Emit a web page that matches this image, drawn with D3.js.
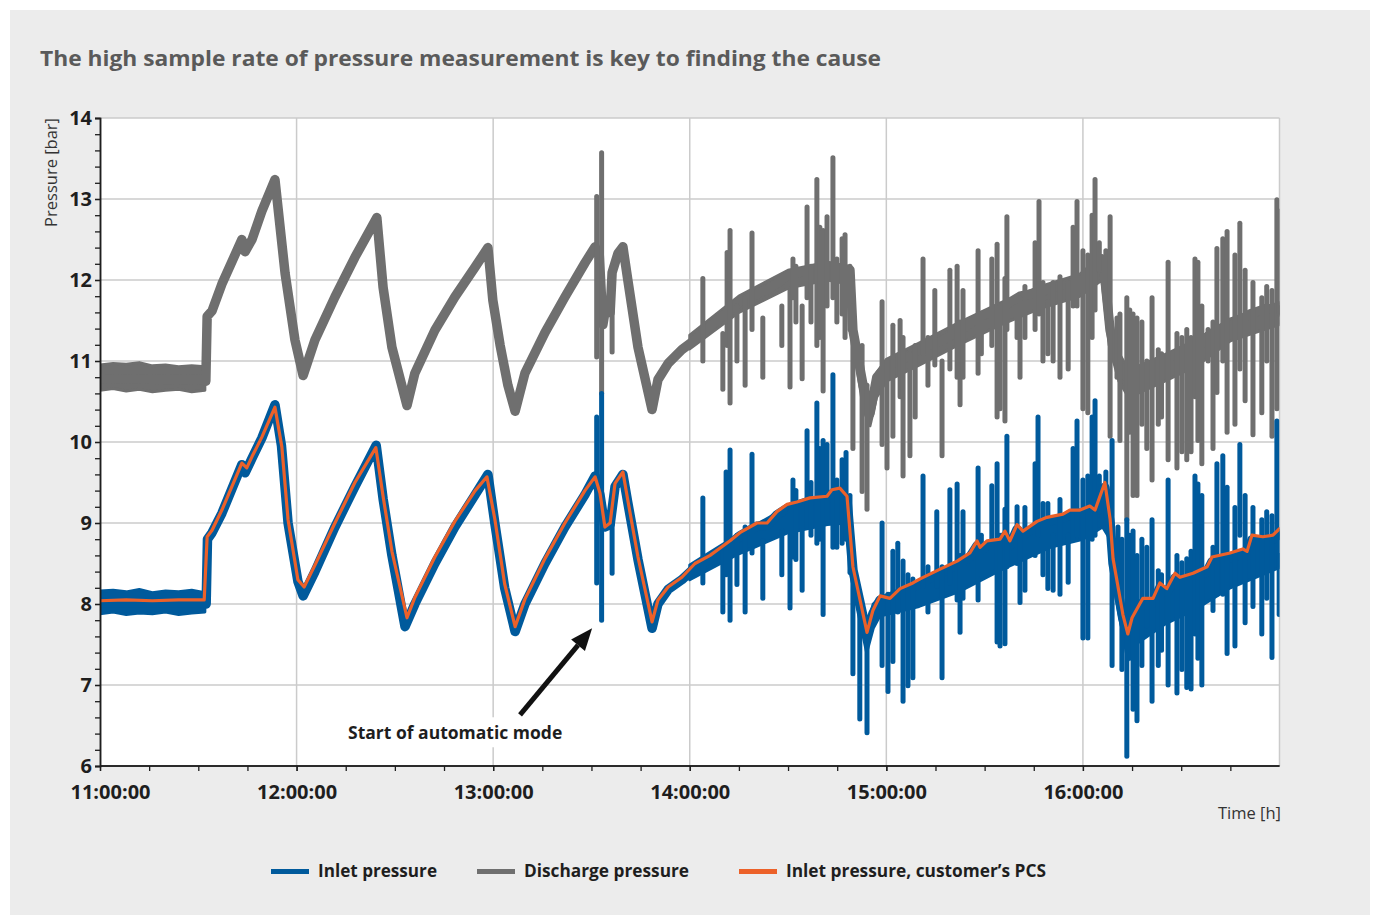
<!DOCTYPE html>
<html><head><meta charset="utf-8">
<script src="https://cdn.jsdelivr.net/npm/d3@7"></script>
<style>
html,body{margin:0;padding:0;background:#fff;}
svg{display:block;font-family:"Open Sans","Noto Sans",sans-serif;}
</style></head><body>
<svg id="chart" width="1376" height="916"></svg>
<script>
// ---------------- DATA (time in minutes after 11:00:00, pressure in bar) ----------------
const title = "The high sample rate of pressure measurement is key to finding the cause";
const yTickValues = [6,7,8,9,10,11,12,13,14];
const xTickMinutes = [0,60,120,180,240,300];
const xTickLabels = ["11:00:00","12:00:00","13:00:00","14:00:00","15:00:00","16:00:00"];
const seriesNames = ["Inlet pressure","Discharge pressure","Inlet pressure, customer\u2019s PCS"];

// Discharge pressure (grey): noisy band before start-up [t, low, high]
const dischargeNoise = [[0,10.64,10.95],[4,10.66,10.97],[8,10.63,10.96],[12,10.65,10.98],[16,10.62,10.94],[20,10.64,10.95],[24,10.65,10.93],[28,10.62,10.94],[32,10.64,10.93]];
// Discharge pressure: dense noise core in automatic mode [t, low, high]
const dischargeCore = [[180,11.15,11.32],[195,11.6,11.8],[210,11.9,12.12],[222,12.0,12.22],[228.5,11.95,12.17],[230,11.2,11.5],[233,10.4,10.8],[235,10.2,10.45],[237,10.55,10.85],[240,10.75,11.02],[250,10.95,11.22],[262,11.2,11.47],[275,11.45,11.72],[287,11.65,11.92],[299,11.8,12.07],[305.8,12.0,12.3],[308,11.2,11.6],[311,10.75,11.1],[314,10.55,10.88],[325,10.75,11.08],[335,10.95,11.27],[345,11.25,11.52],[360,11.45,11.72]];
// Discharge pressure main trace [t, value]
const dischargeTrace = [[0,10.78],[32,10.77],[32.3,10.75],[32.7,11.55],[34.2,11.62],[37.2,11.95],[43.3,12.5],[44.3,12.35],[46.4,12.5],[49.4,12.85],[53.4,13.24],[56.5,12.08],[59.5,11.26],[62.0,10.82],[65.6,11.26],[71.7,11.79],[77.8,12.28],[84.5,12.77],[86.4,11.91],[89.1,11.17],[93.7,10.45],[96.1,10.85],[102.2,11.38],[108.3,11.79],[114.5,12.16],[118.4,12.40],[119.9,11.75],[122.1,11.2],[124.5,10.7],[126.7,10.38],[129.7,10.85],[135.8,11.35],[141.9,11.79],[148.0,12.21],[151.1,12.41],[152.4,12.3],[153.5,11.45],[154.1,11.6],[155.7,11.6],[156.3,12.09],[158.1,12.33],[159.6,12.41],[161.1,12.0],[164.2,11.17],[168.5,10.4],[170.3,10.77],[173.4,10.97],[177.6,11.14],[181.6,11.26],[186.2,11.43],[195.3,11.73],[204.5,11.9],[210.6,12.07],[216.7,12.12],[222.8,12.17],[228.9,12.12],[229.8,11.38],[232.9,10.7],[235.0,10.35],[237.1,10.8],[240.2,10.95],[244.2,11.0],[250.3,11.15],[256.4,11.24],[262.5,11.38],[268.6,11.55],[274.7,11.65],[280.8,11.8],[286.9,11.85],[293.0,11.93],[299.1,11.98],[303.1,12.12],[305.8,12.26],[306.7,12.02],[308.3,11.38],[310.4,11.0],[313.4,10.8],[317.4,10.9],[323.5,11.0],[329.6,11.1],[335.7,11.19],[338.8,11.33],[344.9,11.43],[351.0,11.58],[356.1,11.65],[360,11.63]];
// Discharge pressure short spikes [t, low, high]
const dischargeSpikes = [[151.6,11.05,13.03],[153.1,10.6,13.57],[156.3,11.11,12.16],
[184.0,11.0,12.02],[190.1,10.65,11.34],[191.4,11.19,12.34],[192.3,10.48,12.61],[194.4,11.0,11.68],[196.9,10.7,11.78],[199.0,11.39,12.58],[202.3,10.8,11.53],[208.1,11.19,11.68],[210.6,10.68,11.87],[211.5,11.78,12.26],[212.4,11.48,12.17],[214.3,10.78,11.68],[215.8,11.78,12.9],[217.0,11.48,12.17],[218.8,11.19,13.24],[219.7,11.29,12.65],[220.7,10.63,12.61],[221.9,11.68,12.78],[223.7,11.78,13.51],[224.9,11.48,12.26],[226.5,11.58,12.51],[227.4,11.29,12.56],[228.9,11.39,12.17],[229.8,9.92,11.68],[232.6,9.39,11.19],[234.1,9.17,10.7],
[238.7,9.97,11.73],[240.2,9.68,11.0],[242.0,10.07,11.44],[244.2,10.56,11.5],[245.1,9.58,11.29],[247.2,9.83,11.09],[248.8,10.31,11.19],[251.2,11.09,12.26],[252.7,10.7,11.29],[254.8,10.95,11.87],[257.0,9.83,11.0],[259.4,10.9,12.12],[261.6,10.8,12.17],[262.5,10.46,11.48],[263.4,10.8,11.87],[268.0,10.85,12.36],[269.0,11.09,11.58],[272.2,11.19,12.26],[273.8,10.31,12.44],[274.7,10.41,11.68],[276.2,10.26,12.02],[276.8,11.39,12.78],[279.9,11.29,11.68],[280.8,10.8,11.78],[282.3,11.29,11.92],[285.4,11.39,12.46],[286.6,11.58,12.97],[287.8,11.0,11.97],[289.3,11.09,11.73],[290.9,11.0,11.97],[293.0,10.8,12.04],[295.5,10.9,11.97],[297.0,11.68,12.65],[298.2,11.68,12.97],[300.0,10.41,12.36],[301.5,10.36,12.31],[302.8,11.29,12.8],[303.7,11.63,13.24],[305.0,12.12,12.46],[307.0,11.87,12.36],[308.3,10.07,12.78],[310.4,10.8,11.53],[311.3,10.02,11.58],[313.4,9.04,11.78],[314.3,10.12,11.63],[315.3,9.34,11.58],[316.5,9.34,11.53],[318.0,10.22,11.48],[319.5,9.92,11.0],[321.1,9.53,11.78],[323.0,10.22,11.14],[324.0,10.31,11.09],[326.0,9.78,12.22],[328.7,9.68,11.34],[330.2,9.88,11.29],[331.7,9.78,11.39],[333.0,9.88,11.29],[334.2,10.56,12.26],[335.1,10.02,12.22],[336.3,9.73,11.68],[338.2,11.0,11.39],[339.7,9.92,11.48],[340.9,10.61,12.39],[342.7,11.0,12.51],[344.0,10.12,12.6],[346.4,10.22,12.31],[347.9,10.9,12.7],[349.5,10.51,12.12],[351.9,10.09,11.97],[354.6,10.36,11.78],[356.1,11.0,11.92],[357.7,10.07,11.87],[359.2,10.41,12.99],[359.9,11.58,12.85]];

// Inlet pressure (blue)
const inletNoise = [[0,7.88,8.16],[4,7.9,8.17],[8,7.87,8.15],[12,7.89,8.18],[16,7.88,8.14],[20,7.9,8.16],[24,7.87,8.15],[28,7.89,8.17],[32,7.9,8.14]];
const inletCore = [[180,8.3,8.48],[195,8.62,8.86],[210,8.88,9.2],[222,8.98,9.3],[228,9.0,9.33],[229.8,8.2,8.5],[234,7.4,7.7],[236,7.7,8.0],[238,7.85,8.08],[250,7.97,8.28],[262,8.15,8.5],[275,8.42,8.78],[290,8.7,9.05],[300,8.8,9.15],[306,8.95,9.4],[308.3,8.8,9.05],[310,8.1,8.5],[313.7,7.3,7.62],[316,7.5,7.82],[325,7.75,8.18],[335,7.95,8.35],[345,8.2,8.6],[360,8.45,8.88]];
const inletTrace = [[0,8.02],[32,8.02],[32.4,8.0],[32.8,8.8],[34.2,8.88],[37.2,9.12],[43.3,9.72],[44.3,9.62],[46.4,9.8],[49.4,10.05],[53.4,10.46],[55.4,9.95],[57.4,9.0],[60.4,8.28],[62.0,8.1],[65.6,8.4],[71.7,8.95],[77.8,9.45],[84.3,9.96],[86.4,9.3],[89.1,8.6],[93.1,7.72],[96.1,8.0],[102.2,8.5],[108.3,8.95],[114.5,9.35],[118.4,9.6],[120.5,9.0],[123.5,8.2],[126.7,7.66],[129.7,8.0],[135.8,8.5],[141.9,8.95],[148.0,9.35],[151.1,9.58],[152.6,9.35],[154.1,8.95],[155.7,8.98],[157.2,9.45],[159.6,9.6],[161.1,9.25],[164.2,8.55],[168.5,7.7],[170.3,8.0],[173.4,8.18],[177.6,8.3],[181.6,8.45],[186.2,8.56],[192.3,8.74],[195.3,8.84],[200.5,8.96],[203.6,8.97],[206.6,9.1],[209.7,9.18],[212.7,9.22],[216.7,9.27],[221.9,9.29],[223.4,9.36],[225.8,9.38],[228.0,9.28],[229.8,8.42],[234.1,7.62],[235.9,7.88],[238.1,8.05],[241.1,8.02],[244.2,8.14],[248.1,8.2],[250.3,8.26],[256.4,8.38],[261.6,8.48],[265.5,8.58],[267.7,8.72],[268.6,8.65],[270.7,8.72],[274.7,8.75],[276.2,8.84],[277.7,8.72],[279.9,8.92],[281.7,8.85],[286.0,8.96],[289.0,9.02],[293.9,9.06],[296.0,9.1],[299.1,9.12],[302.1,9.16],[303.7,9.1],[306.7,9.44],[308.3,9.0],[309.2,8.5],[312.2,7.82],[313.7,7.58],[315.0,7.78],[318.3,8.02],[321.4,8.02],[323.5,8.2],[325.6,8.14],[328.1,8.32],[329.6,8.28],[333.6,8.32],[337.9,8.4],[339.4,8.52],[344.9,8.57],[348.8,8.62],[350.1,8.6],[351.6,8.79],[354.9,8.77],[358.0,8.8],[360,8.87]];
const inletSpikes = [[151.6,8.26,10.31],[153.1,7.8,10.6],[156.3,8.38,8.99],
[184.0,8.26,9.31],[190.1,7.9,8.63],[191.1,8.36,9.63],[192.3,7.8,9.9],[194.4,8.24,8.85],[196.9,7.9,8.95],[199.0,8.63,9.85],[202.3,8.07,8.78],[208.1,8.36,8.9],[210.6,7.95,9.14],[211.5,8.58,9.53],[212.4,8.55,9.4],[214.3,8.17,9.24],[215.8,8.95,10.14],[217.0,8.85,9.5],[218.8,8.75,10.48],[219.7,8.8,9.92],[220.7,7.87,10.02],[221.9,9.04,9.97],[223.7,8.7,10.83],[224.9,8.7,9.53],[226.5,8.75,9.78],[227.7,8.8,9.87],[228.9,8.39,9.34],[229.8,7.14,8.36],[231.9,6.58,7.97],[234.1,6.41,7.83],
[238.7,7.24,9.0],[240.5,6.92,8.12],[242.0,7.29,8.65],[243.5,7.9,8.75],[245.1,6.8,8.53],[246.6,6.99,8.36],[248.1,7.09,8.31],[251.2,8.22,9.58],[252.7,7.9,8.46],[255.4,8.22,9.14],[257.0,7.09,8.46],[259.4,8.26,9.41],[261.6,8.05,9.48],[262.5,7.65,8.6],[263.4,8.07,9.14],[268.0,8.05,9.68],[269.0,8.35,8.85],[272.2,8.44,9.46],[273.8,7.53,9.73],[274.7,7.48,8.85],[276.2,7.51,9.17],[276.8,8.46,10.07],[279.9,8.5,9.2],[280.8,8.02,8.85],[282.3,8.17,9.19],[285.4,8.6,9.73],[286.3,8.85,10.31],[287.8,8.36,9.24],[289.3,8.19,9.24],[290.9,8.17,8.85],[293.0,8.12,9.29],[295.5,8.27,8.85],[297.0,8.8,9.92],[298.2,8.85,10.26],[300.0,7.58,9.53],[301.5,7.58,9.58],[302.8,8.8,10.31],[303.7,8.85,10.51],[305.0,9.14,9.58],[307.0,9.09,9.63],[308.9,7.24,10.02],[310.7,8.07,8.95],[311.9,7.19,8.8],[313.4,6.12,9.04],[314.3,7.33,8.85],[315.3,6.7,8.9],[316.5,6.56,8.6],[318.0,7.24,8.8],[319.5,7.73,8.7],[321.1,6.8,9.04],[323.0,7.24,8.41],[324.0,7.43,8.36],[326.0,7.0,9.53],[328.7,6.9,8.6],[330.2,7.19,8.51],[331.7,6.97,8.56],[333.0,6.95,8.65],[334.2,7.63,9.58],[335.1,7.33,9.48],[336.3,7.0,9.34],[339.7,7.92,8.7],[340.9,8.12,9.73],[342.7,8.12,9.83],[344.0,7.39,9.44],[346.4,7.48,9.19],[347.9,8.85,9.97],[349.5,7.77,9.34],[351.9,7.97,9.19],[354.6,7.63,9.04],[356.1,8.07,9.14],[357.7,7.34,9.09],[359.2,8.85,10.26],[359.9,7.87,8.6]];

// Inlet pressure from customer's PCS (orange)
const pcsTrace = [[0,8.04],[8,8.05],[16,8.04],[24,8.05],[31.8,8.05],[32.7,8.83],[34.2,8.91],[37.2,9.16],[43.3,9.74],[44.8,9.68],[46.4,9.82],[49.4,10.06],[53.4,10.43],[55.5,9.94],[57.4,9.04],[60.4,8.30],[62.3,8.21],[65.6,8.48],[71.7,9.0],[77.8,9.5],[84.2,9.93],[86.4,9.33],[89.1,8.65],[93.7,7.83],[96.1,8.08],[102.2,8.58],[108.3,9.02],[114.5,9.4],[118.1,9.57],[120.5,9.05],[123.5,8.25],[126.7,7.72],[129.7,8.06],[135.8,8.56],[141.9,9.0],[148.0,9.4],[151.1,9.57],[152.6,9.37],[154.1,8.95],[155.7,9.0],[157.2,9.49],[159.6,9.63],[161.1,9.28],[164.2,8.58],[168.5,7.78],[170.3,8.05],[173.4,8.21],[177.6,8.33],[181.6,8.5],[186.2,8.60],[192.3,8.78],[195.3,8.88],[200.5,9.0],[203.6,9.0],[206.6,9.14],[209.7,9.23],[212.7,9.26],[216.7,9.31],[221.9,9.33],[223.4,9.41],[225.8,9.43],[228.0,9.33],[229.8,8.46],[234.1,7.65],[235.9,7.92],[238.1,8.1],[241.1,8.07],[244.2,8.19],[248.1,8.26],[250.3,8.31],[256.4,8.43],[261.6,8.53],[265.5,8.63],[267.7,8.78],[268.6,8.7],[270.7,8.78],[274.7,8.8],[276.2,8.9],[277.7,8.78],[279.9,8.98],[281.7,8.9],[286.0,9.02],[289.0,9.07],[293.9,9.11],[296.0,9.16],[299.1,9.16],[302.1,9.21],[303.7,9.16],[306.7,9.5],[308.3,9.05],[309.2,8.56],[312.2,7.87],[313.7,7.63],[315.0,7.83],[318.3,8.07],[321.4,8.07],[323.5,8.26],[325.6,8.19],[328.1,8.38],[329.6,8.33],[333.6,8.38],[337.9,8.46],[339.4,8.58],[344.9,8.63],[348.8,8.68],[350.1,8.65],[351.6,8.85],[354.9,8.83],[358.0,8.85],[360,8.93]];

// annotation (minutes, bar)
const annotationText = "Start of automatic mode";
const annotationAnchor = [75.7, 6.33];
const annotationArrow = [[128.2, 6.63],[150.2, 7.70]];

// ---------------- STYLE ----------------
const C = {blue:"#005a9c", grey:"#6f6f6f", orange:"#ec6129", grid:"#cbcbcb", axis:"#1e1e1e", text:"#1e1e1e", title:"#5a5a5a", panel:"#ececec"};
const T0 = new Date(2020,0,1,11,0,0);
const toDate = m => new Date(T0.getTime() + m*60000);

const svg = d3.select("#chart");
const W = 1376, H = 916;
const plot = {left:100, right:1279.5, top:118, bottom:766};

svg.append("rect").attr("x",0).attr("y",0).attr("width",W).attr("height",H).attr("fill","#fff");
svg.append("rect").attr("x",10).attr("y",10).attr("width",1360).attr("height",905).attr("fill",C.panel);

svg.append("text").attr("x",40).attr("y",66).attr("font-size",22).attr("font-weight",700)
  .attr("fill",C.title).attr("textLength",841).attr("lengthAdjust","spacingAndGlyphs").text(title);

const x = d3.scaleTime().domain([toDate(0), toDate(360)]).range([plot.left, plot.right]);
const y = d3.scaleLinear().domain([6,14]).range([plot.bottom, plot.top]);

svg.append("rect").attr("x",plot.left).attr("y",plot.top).attr("width",plot.right-plot.left).attr("height",plot.bottom-plot.top).attr("fill","#fff");

// grid
const grid = svg.append("g");
grid.selectAll(".hg").data(yTickValues.filter(v=>v>6)).join("line")
  .attr("x1",plot.left).attr("x2",plot.right).attr("y1",d=>y(d)).attr("y2",d=>y(d))
  .attr("stroke",C.grid).attr("stroke-width",1.5);
grid.selectAll(".vg").data(xTickMinutes.filter(m=>m>0).concat([360])).join("line")
  .attr("x1",d=>x(toDate(d))).attr("x2",d=>x(toDate(d))).attr("y1",plot.top).attr("y2",plot.bottom)
  .attr("stroke",C.grid).attr("stroke-width",1.5);

svg.append("clipPath").attr("id","clip").append("rect")
  .attr("x",plot.left).attr("y",plot.top-4).attr("width",plot.right-plot.left).attr("height",plot.bottom-plot.top+4);
const g = svg.append("g").attr("clip-path","url(#clip)");

const line = d3.line().x(d=>x(toDate(d[0]))).y(d=>y(d[1]));
const band = d3.area().x(d=>x(toDate(d[0]))).y0(d=>y(d[1])).y1(d=>y(d[2]));

function drawSeries(bands, trace, spikes, color){
  bands.forEach(b=>g.append("path").datum(b).attr("d",band).attr("fill",color).attr("stroke",color).attr("stroke-width",3).attr("stroke-linejoin","round"));
  g.append("path").datum(trace).attr("d",line).attr("fill","none").attr("stroke",color)
    .attr("stroke-width",9.5).attr("stroke-linejoin","round").attr("stroke-linecap","round");
  g.append("g").selectAll("line").data(spikes).join("line")
    .attr("x1",d=>x(toDate(d[0]))).attr("x2",d=>x(toDate(d[0])))
    .attr("y1",d=>y(d[1])).attr("y2",d=>y(d[2]))
    .attr("stroke",color).attr("stroke-width",5).attr("stroke-linecap","round");
}
drawSeries([dischargeNoise, dischargeCore], dischargeTrace, dischargeSpikes, C.grey);
drawSeries([inletNoise, inletCore], inletTrace, inletSpikes, C.blue);
g.append("path").datum(pcsTrace).attr("d",line).attr("fill","none").attr("stroke",C.orange)
  .attr("stroke-width",3.2).attr("stroke-linejoin","round").attr("stroke-linecap","round");

// axes
const yMinor = d3.range(6,14.001,0.2);
const yAxisMinor = d3.axisLeft(y).tickValues(yMinor).tickSize(5).tickFormat("");
const yAxis = d3.axisLeft(y).tickValues(yTickValues).tickSize(5).tickPadding(3).tickFormat(d3.format("d"));
const gy1 = svg.append("g").attr("transform",`translate(${plot.left},0)`).call(yAxisMinor);
const gy = svg.append("g").attr("transform",`translate(${plot.left},0)`).call(yAxis);
[gy1,gy].forEach(a=>{a.select(".domain").attr("stroke",C.axis).attr("stroke-width",1.5);
  a.selectAll(".tick line").attr("stroke",C.axis).attr("stroke-width",1.3);});
gy.selectAll(".tick text").attr("font-size",20).attr("font-weight",700).attr("fill",C.text)
  .attr("font-family","'Open Sans',sans-serif");

const xMinor = d3.range(0,346,15).map(toDate);
const xAxisMinor = d3.axisBottom(x).tickValues(xMinor).tickSize(5).tickFormat("");
const xAxis = d3.axisBottom(x).tickValues(xTickMinutes.map(toDate)).tickSize(5).tickPadding(14)
  .tickFormat((d,i)=>xTickLabels[i]);
const gx1 = svg.append("g").attr("transform",`translate(0,${plot.bottom})`).call(xAxisMinor);
const gx = svg.append("g").attr("transform",`translate(0,${plot.bottom})`).call(xAxis);
[gx1,gx].forEach(a=>{a.select(".domain").attr("stroke",C.axis).attr("stroke-width",1.5).attr("d",`M${plot.left},0H${plot.right}`);
  a.selectAll(".tick line").attr("stroke",C.axis).attr("stroke-width",1.3);});
gx.selectAll(".tick text").attr("font-size",20).attr("font-weight",700).attr("fill",C.text)
  .attr("font-family","'Open Sans',sans-serif").attr("dx",(d,i)=>i===0?10:0);

// axis titles
svg.append("text").attr("transform",`translate(57,${plot.top}) rotate(-90)`).attr("text-anchor","end")
  .attr("font-size",16.5).attr("fill","#333").text("Pressure [bar]");
svg.append("text").attr("x",1281).attr("y",819).attr("text-anchor","end")
  .attr("font-size",16.5).attr("fill","#333").text("Time [h]");

// annotation
const ann = svg.append("g");
const at = ann.append("text").attr("x",x(toDate(annotationAnchor[0]))).attr("y",y(annotationAnchor[1]))
  .attr("font-size",17.5).attr("font-weight",700).attr("fill",C.text).text(annotationText);
const bb = at.node().getBBox();
ann.insert("rect","text").attr("x",bb.x-4).attr("y",bb.y-3).attr("width",bb.width+8).attr("height",bb.height+6).attr("fill","#fff");
const ax0 = x(toDate(annotationArrow[0][0])), ay0 = y(annotationArrow[0][1]);
const ax1 = x(toDate(annotationArrow[1][0])), ay1 = y(annotationArrow[1][1]);
const ang = Math.atan2(ay1-ay0, ax1-ax0), hl = 22, hw = 9;
const bx = ax1 - hl*Math.cos(ang), by = ay1 - hl*Math.sin(ang);
ann.append("line").attr("x1",ax0).attr("y1",ay0).attr("x2",bx).attr("y2",by).attr("stroke","#111").attr("stroke-width",5);
ann.append("path").attr("d",`M${ax1},${ay1}L${bx+hw*Math.sin(ang)},${by-hw*Math.cos(ang)}L${bx-hw*Math.sin(ang)},${by+hw*Math.cos(ang)}Z`).attr("fill","#111");

// legend
const legendColors = [C.blue, C.grey, C.orange];
const legendX = [271, 477, 739];
const legendWidths = [119, 165, 260];
const lg = svg.append("g");
seriesNames.forEach((n,i)=>{
  lg.append("line").attr("x1",legendX[i]).attr("x2",legendX[i]+38).attr("y1",871.5).attr("y2",871.5)
    .attr("stroke",legendColors[i]).attr("stroke-width",5);
  lg.append("text").attr("x",legendX[i]+47).attr("y",877).attr("font-size",17).attr("font-weight",700)
    .attr("fill",C.text).attr("textLength",legendWidths[i]).attr("lengthAdjust","spacingAndGlyphs").text(n);
});
</script>
</body></html>
